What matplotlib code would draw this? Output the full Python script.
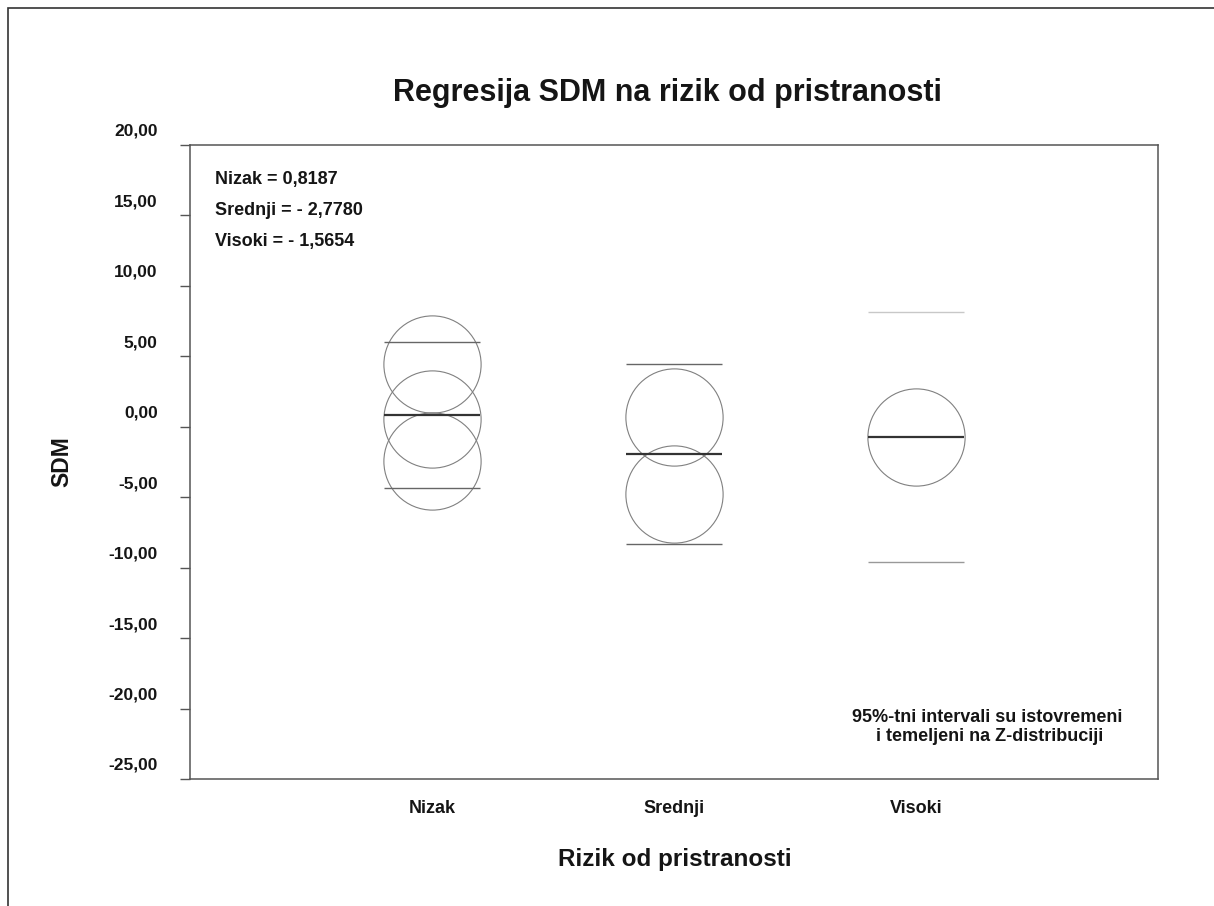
import matplotlib
matplotlib.use('Agg')
import matplotlib.pyplot as plt
import matplotlib.transforms as mtransforms
from matplotlib.patches import Rectangle
from matplotlib.ticker import FuncFormatter

plt.rcParams['font.family'] = ['Liberation Sans', 'DejaVu Sans']

# values
categories = ['Nizak', 'Srednji', 'Visoki']
means = [0.82, -1.95, -0.74]
upper = [6.0, 4.43, 8.12]
lower = [-4.36, -8.33, -9.59]
study_points = [[4.47, 0.57, -2.45], [0.71, -4.79], [-0.74]]
estimates = ['Nizak = 0,8187', 'Srednji = - 2,7780', 'Visoki = - 1,5654']
y_ticks = [20, 15, 10, 5, 0, -5, -10, -15, -20, -25]

# line colours for the interval bounds (upper, lower)
bound_colors = [('#666666', '#666666'), ('#666666', '#666666'), ('#c8c8c8', '#999999')]
text_color = '#151515'

fig = plt.figure(figsize=(12.14, 9.06), dpi=100)
ax = fig.add_axes([0.1565, 0.1402, 0.7974, 0.6998])

xs = list(range(1, len(categories) + 1))
half = 0.2
for i, x in enumerate(xs):
    ax.plot([x] * len(study_points[i]), study_points[i], linestyle='none', marker='o',
            markersize=70, markerfacecolor='none', markeredgecolor='#808080',
            markeredgewidth=0.8)
    ax.hlines(upper[i], x - half, x + half, color=bound_colors[i][0], linewidth=1.0)
    ax.hlines(lower[i], x - half, x + half, color=bound_colors[i][1], linewidth=1.0)
    ax.hlines(means[i], x - half, x + half, color='#333333', linewidth=1.6)

ax.set_xlim(0, 4)
ax.set_ylim(-25, 20)
ax.set_xticks(xs)
ax.set_xticklabels(categories, fontsize=13, fontweight='bold', color=text_color)
ax.tick_params(axis='x', length=0, pad=15)
ax.set_yticks(y_ticks)
ax.yaxis.set_major_formatter(FuncFormatter(lambda v, p: f'{v:.2f}'.replace('.', ',')))
ax.tick_params(axis='y', length=7.2, width=1.0, color='#555555', pad=16,
               labelsize=12.5, labelcolor=text_color)
for lab in ax.get_yticklabels():
    lab.set_fontweight('bold')
    lab.set_transform(lab.get_transform() +
                      mtransforms.ScaledTranslation(0, 15 / 100, fig.dpi_scale_trans))

for s in ax.spines.values():
    s.set_color('#555555')
    s.set_linewidth(1.1)

for k, txt in enumerate(estimates):
    ax.text(0.026, 0.946 - k * 0.0495, txt, transform=ax.transAxes, fontsize=13,
            fontweight='bold', color=text_color, va='center', ha='left')

ax.text(0.823, 0.082, '95%-tni intervali su istovremeni\n i temeljeni na Z-distribuciji',
        transform=ax.transAxes, fontsize=13, fontweight='bold', color=text_color,
        ha='center', va='center', linespacing=1.1)

fig.text(0.5494, 0.897, 'Regresija SDM na rizik od pristranosti', fontsize=22,
         fontweight='bold', color=text_color, ha='center', va='center')
fig.text(0.5556, 0.051, 'Rizik od pristranosti', fontsize=17.5, fontweight='bold',
         color=text_color, ha='center', va='center')
fig.text(0.051, 0.49, 'SDM', fontsize=16.5, fontweight='bold', color=text_color,
         ha='center', va='center', rotation=90)

# outer frame (only left and top edges fall inside the picture)
fig.patches.append(Rectangle((8 / 1214, -0.1), 2, 1.1 - 8 / 906, transform=fig.transFigure,
                             fill=False, edgecolor='#333333', linewidth=1.2))

fig.savefig('out.png', dpi=100)
